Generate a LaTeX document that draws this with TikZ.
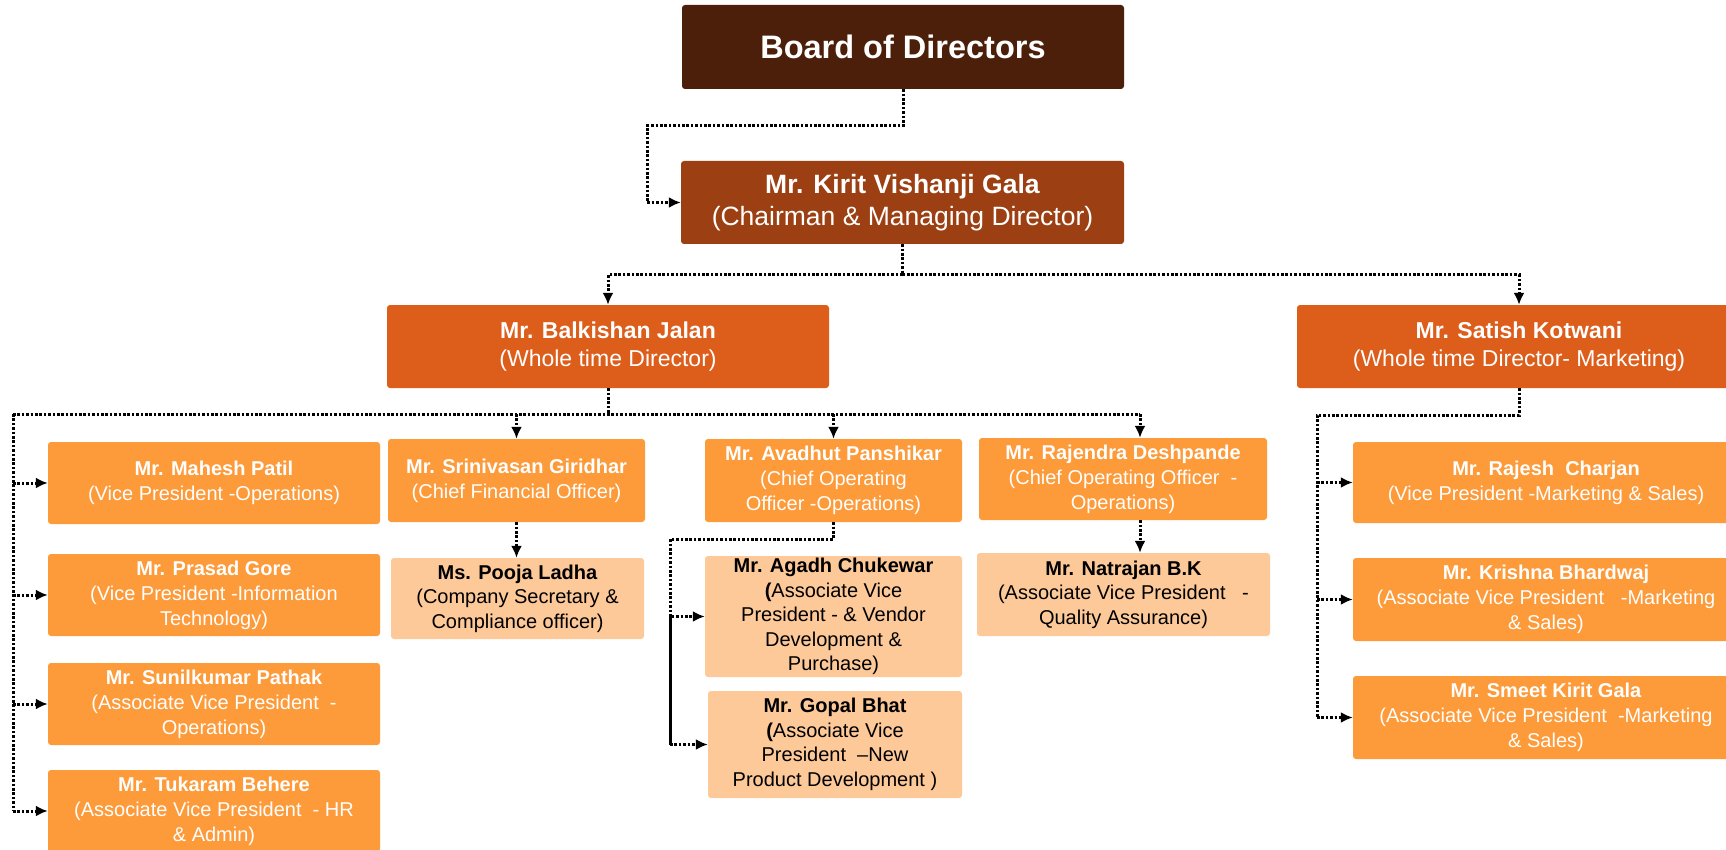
\documentclass[tikz,border=0pt]{standalone}
\usepackage{fontspec}
\setmainfont{Liberation Sans}
\usetikzlibrary{arrows.meta,calc}
\definecolor{cboard}{HTML}{4C1F0A}
\definecolor{ckirit}{HTML}{9C3F12}
\definecolor{clvl2}{HTML}{DD5D1A}
\definecolor{clvl3}{HTML}{FD9A39}
\definecolor{clight}{HTML}{FDC999}
\tikzset{
  box/.style={rectangle, rounded corners=3pt, align=center, inner sep=0pt},
  lvlone/.style={box, fill=cboard, text=white, font=\fontsize{32.5}{38}\selectfont\bfseries},
  lvlkirit/.style={box, fill=ckirit, text=white, font=\fontsize{26.5}{32}\selectfont},
  lvltwo/.style={box, fill=clvl2, text=white, font=\fontsize{23}{28}\selectfont},
  lvlthree/.style={box, fill=clvl3, text=white, font=\fontsize{20}{25}\selectfont},
  lvlfour/.style={box, fill=clight, text=black, font=\fontsize{20}{24.5}\selectfont},
  dotline/.style={draw=black, line width=3pt, dash pattern=on 2.6pt off 1.8pt},
  conn/.style={dotline, -{Latex[length=12pt,width=11pt]}},
  solidline/.style={draw=black, line width=3pt}
}
\begin{document}
\begin{tikzpicture}[x=1pt,y=-1pt]
\useasboundingbox (0,0) rectangle (1726,850);
\clip (0,0) rectangle (1726,850);
\fill[white] (0,0) rectangle (1726,850);

% top levels
\node[lvlone, minimum width=442pt, minimum height=84pt] (board) at (903,47) {Board of Directors};
\node[lvlkirit, minimum width=443pt, minimum height=83pt] (kirit) at (902.5,202.5)
  {\textbf{Mr. Kirit Vishanji Gala}\\(Chairman \& Managing Director)};
\node[lvltwo, minimum width=442pt, minimum height=83pt] (balk) at (608,346.5)
  {\textbf{Mr. Balkishan Jalan}\\(Whole time Director)};
\node[lvltwo, minimum width=444pt, minimum height=83pt] (satish) at (1519,346.5)
  {\textbf{Mr. Satish Kotwani}\\(Whole time Director- Marketing)};

% left column
\node[lvlthree, minimum width=332pt, minimum height=82pt] (mahesh) at (214,483)
  {\textbf{Mr. Mahesh Patil}\\(Vice President -Operations)};
\node[lvlthree, minimum width=332pt, minimum height=82pt] (prasad) at (214,595)
  {\textbf{Mr. Prasad Gore}\\(Vice President -Information\\Technology)};
\node[lvlthree, minimum width=332pt, minimum height=82pt] (sunil) at (214,704)
  {\textbf{Mr. Sunilkumar Pathak}\\(Associate Vice President\ \ -\\Operations)};
\node[lvlthree, minimum width=332pt, minimum height=82pt] (tukaram) at (214,811)
  {\textbf{Mr. Tukaram Behere}\\(Associate Vice President\ \ - HR\\\& Admin)};

% CFO column
\node[lvlthree, minimum width=257pt, minimum height=83pt] (srini) at (516.5,480.5)
  {\textbf{Mr. Srinivasan Giridhar}\\(Chief Financial Officer)};
\node[lvlfour, minimum width=253pt, minimum height=81pt] (pooja) at (517.5,598.5)
  {\textbf{Ms. Pooja Ladha}\\(Company Secretary \&\\Compliance officer)};

% COO column
\node[lvlthree, minimum width=257pt, minimum height=83pt] (avadhut) at (833.5,480.5)
  {\textbf{Mr. Avadhut Panshikar}\\(Chief Operating\\Officer -Operations)};
\node[lvlfour, minimum width=257pt, minimum height=121pt] (agadh) at (833.5,616.5)
  {\textbf{Mr. Agadh Chukewar}\\\textbf{(}Associate Vice\\President - \& Vendor\\Development \&\\Purchase)};
\node[lvlfour, minimum width=254pt, minimum height=107pt] (gopal) at (835,744.5)
  {\textbf{Mr. Gopal Bhat}\\\textbf{(}Associate Vice\\President\ \ --New\\Product Development )};

% COO 2 column
\node[lvlthree, minimum width=288pt, minimum height=82pt] (rajendra) at (1123,479)
  {\textbf{Mr. Rajendra Deshpande}\\(Chief Operating Officer\ \ -\\Operations)};
\node[lvlfour, minimum width=293pt, minimum height=83pt] (natrajan) at (1123.5,594.5)
  {\textbf{Mr. Natrajan B.K}\\(Associate Vice President\ \ \ -\\Quality Assurance)};

% marketing column
\node[lvlthree, minimum width=386pt, minimum height=81pt] (rajesh) at (1546,482.5)
  {\textbf{Mr. Rajesh\ \ Charjan}\\(Vice President -Marketing \& Sales)};
\node[lvlthree, minimum width=386pt, minimum height=83pt] (krishna) at (1546,599.5)
  {\textbf{Mr. Krishna Bhardwaj}\\(Associate Vice President\ \ \ -Marketing\\\& Sales)};
\node[lvlthree, minimum width=386pt, minimum height=83pt] (smeet) at (1546,717.5)
  {\textbf{Mr. Smeet Kirit Gala}\\(Associate Vice President\ \ -Marketing\\\& Sales)};

% connectors: board -> kirit
\coordinate (c1) at (647,126);
\draw[conn] (board.south) |- (c1) |- (kirit.west);

% kirit -> level 2
\coordinate (k1) at (902.5,275);
\draw[dotline] (kirit.south) -- (k1);
\draw[conn] (k1) -| (balk.north);
\draw[conn] (k1) -| (satish.north);

% balkishan bus
\coordinate (b0) at (608,414);
\coordinate (bl) at (13,414);
\coordinate (br) at (1140,414);
\draw[dotline] (balk.south) -- (b0);
\draw[dotline] (bl) -- (br);
\draw[dotline] (bl) -- (bl |- tukaram.west);
\draw[conn] (bl |- mahesh.west) -- (mahesh.west);
\draw[conn] (bl |- prasad.west) -- (prasad.west);
\draw[conn] (bl |- sunil.west) -- (sunil.west);
\draw[conn] (bl |- tukaram.west) -- (tukaram.west);
\draw[conn] (srini.north |- bl) -- (srini.north);
\draw[conn] (avadhut.north |- bl) -- (avadhut.north);
\draw[conn] (br) -- (br |- rajendra.north);

% srinivasan -> pooja
\draw[conn] (srini.south) -- (pooja.north -| srini.south);

% avadhut -> agadh, gopal
\coordinate (a1) at (670,539);
\draw[conn] (avadhut.south) |- (a1) |- (agadh.west);
\draw[solidline] (a1 |- agadh.west) -- (a1 |- gopal.west);
\draw[conn] (a1 |- gopal.west) -- (gopal.west);

% rajendra -> natrajan
\draw[conn] (br |- rajendra.south) -- (br |- natrajan.north);

% satish -> marketing
\coordinate (s1) at (1519,415);
\coordinate (s2) at (1317,415);
\draw[dotline] (satish.south) -- (s1) -- (s2) -- (s2 |- smeet.west);
\draw[conn] (s2 |- rajesh.west) -- (rajesh.west);
\draw[conn] (s2 |- krishna.west) -- (krishna.west);
\draw[conn] (s2 |- smeet.west) -- (smeet.west);
\end{tikzpicture}
\end{document}
